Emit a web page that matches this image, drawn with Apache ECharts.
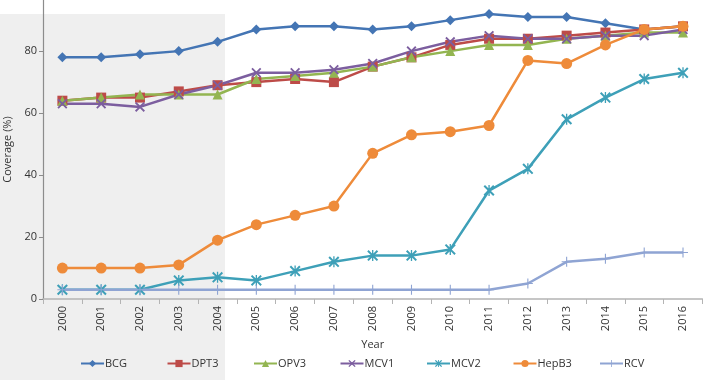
<!DOCTYPE html>
<html><head><meta charset="utf-8">
<script src="https://cdn.jsdelivr.net/npm/echarts@6/dist/echarts.min.js"></script>
<style>html,body{margin:0;padding:0;background:#fff}#c{width:708px;height:380px}</style>
</head><body><div id="c"></div>
<script>
const years = ['2000','2001','2002','2003','2004','2005','2006','2007','2008','2009','2010','2011','2012','2013','2014','2015','2016'];
const BCG   = [78,78,79,80,83,87,88,88,87,88,90,92,91,91,89,87,88];
const DPT3  = [64,65,65,67,69,70,71,70,75,78,82,84,84,85,86,87,88];
const OPV3  = [64,65,66,66,66,71,72,73,75,78,80,82,82,84,85,86,86];
const MCV1  = [63,63,62,66,69,73,73,74,76,80,83,85,84,84,85,85,87];
const MCV2  = [3,3,3,6,7,6,9,12,14,14,16,35,42,58,65,71,73];
const HepB3 = [10,10,10,11,19,24,27,30,47,53,54,56,77,76,82,87,88];
const RCV   = [3,3,3,3,3,3,3,3,3,3,3,3,5,12,13,15,15];
const names = ['BCG','DPT3','OPV3','MCV1','MCV2','HepB3','RCV'];
const yTicks = [0,20,40,60,80];

const xPath = 'path://M0,1.3L1.3,0L5,3.7L8.7,0L10,1.3L6.3,5L10,8.7L8.7,10L5,6.3L1.3,10L0,8.7L3.7,5Z';
const starPath = 'path://M0,1.3L1.3,0L5,3.7L8.7,0L10,1.3L6.3,5L10,8.7L8.7,10L5,6.3L1.3,10L0,8.7L3.7,5Z M4.4,0L5.6,0L5.6,10L4.4,10Z';
const plusPath = 'path://M4.45,0L5.55,0L5.55,10L4.45,10Z M0,4.45L10,4.45L10,5.55L0,5.55Z';

function mk(name, data, color, symbol, size) {
  return {name, type:'line', data, symbol, symbolSize:size, showAllSymbol:true,
    lineStyle:{color, width:2.5}, itemStyle:{color, borderWidth:0},
    emphasis:{disabled:true}, animation:false};
}
const legends = names.map((n, i) => ({
  left: 80 + i * 86.5, top: 358, padding: 0, itemWidth: 23, itemHeight: 9, itemGap: 0,
  textStyle: {fontSize: 11, color: '#333', fontFamily: 'Open Sans', padding: [0,0,0,-4]},
  data: [n], selectedMode: false
}));
const chart = echarts.init(document.getElementById('c'));
chart.setOption({
  animation:false,
  textStyle:{fontFamily:'Open Sans'},
  graphic:[{type:'rect', shape:{x:0,y:14,width:225,height:366}, style:{fill:'#efefef'}, z:-10, silent:true}],
  grid:{left:43, right:5.6, top:0, bottom:81, containLabel:false, outerBoundsMode:'none'},
  legend: legends,
  xAxis:{
    type:'category', data:years, boundaryGap:true,
    name:'Year', nameLocation:'middle', nameGap:39,
    nameTextStyle:{fontSize:11, color:'#333'},
    axisLine:{lineStyle:{color:'#b4b4b4', width:1.5}},
    axisTick:{show:true, length:5, lineStyle:{color:'#b4b4b4'}},
    axisLabel:{rotate:90, fontSize:11, color:'#333', margin:7}
  },
  yAxis:{
    type:'value', min:0, max:96.5, interval:20,
    name:'Coverage (%)', nameLocation:'middle', nameGap:30,
    nameTextStyle:{fontSize:11, color:'#333'},
    axisLine:{show:true, lineStyle:{color:'#8c8c8c', width:1.2}},
    axisTick:{show:true, length:4, lineStyle:{color:'#8c8c8c'}},
    splitLine:{show:false},
    axisLabel:{fontSize:11, color:'#333', margin:6, showMaxLabel:false,
      formatter: v => yTicks.indexOf(v) >= 0 ? String(v) : ''}
  },
  series:[
    mk('BCG', BCG, '#4475b4', 'diamond', 10),
    mk('DPT3', DPT3, '#bd4b48', 'rect', 10),
    mk('OPV3', OPV3, '#93b551', 'triangle', 10),
    mk('MCV1', MCV1, '#7c5e9f', xPath, 10),
    mk('MCV2', MCV2, '#3ea0b8', starPath, 11),
    mk('HepB3', HepB3, '#ee8b3a', 'circle', 11),
    mk('RCV', RCV, '#8fa4d3', plusPath, 10)
  ]
});
</script></body></html>
